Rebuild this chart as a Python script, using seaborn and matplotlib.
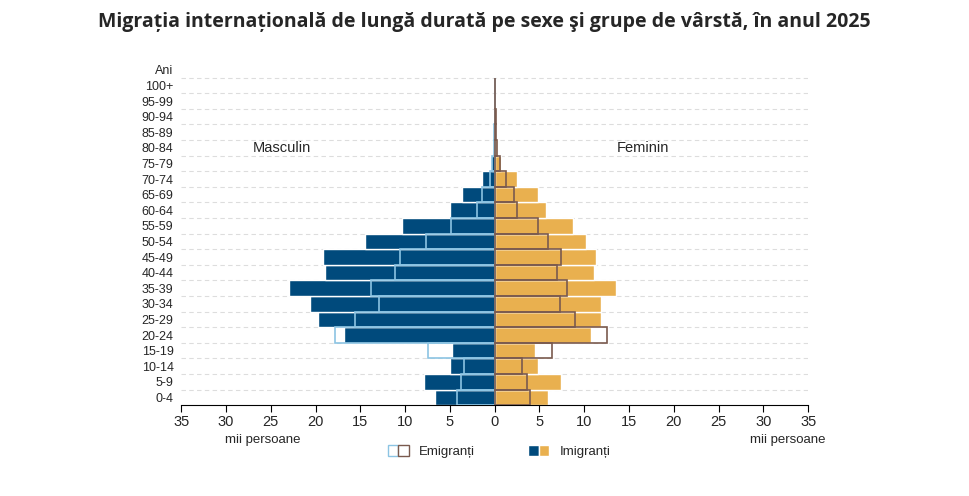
import numpy as np
import seaborn as sns
import matplotlib.pyplot as plt
from matplotlib.patches import Patch
from matplotlib.legend_handler import HandlerTuple

sns.set_style("white")
plt.rcParams['font.family'] = ['Liberation Sans', 'DejaVu Sans']

# age groups bottom -> top
ages = ['0-4', '5-9', '10-14', '15-19', '20-24', '25-29', '30-34', '35-39',
        '40-44', '45-49', '50-54', '55-59', '60-64', '65-69', '70-74', '75-79',
        '80-84', '85-89', '90-94', '95-99', '100+']

# thousands of persons
male_imm = [6.7, 7.9, 5.0, 4.8, 16.8, 19.7, 20.6, 23.0, 18.9, 19.2, 14.5, 10.3,
            5.0, 3.6, 1.4, 0.4, 0.1, 0.05, 0.0, 0.0, 0.0]
male_emi = [4.2, 3.8, 3.4, 7.5, 17.8, 15.6, 12.9, 13.8, 11.1, 10.6, 7.7, 4.9,
            2.0, 1.4, 0.5, 0.3, 0.1, 0.05, 0.0, 0.0, 0.0]
fem_imm = [6.0, 7.4, 4.8, 4.5, 10.7, 11.9, 11.9, 13.6, 11.1, 11.3, 10.2, 8.7,
           5.7, 4.8, 2.5, 0.7, 0.3, 0.2, 0.1, 0.0, 0.0]
fem_emi = [4.0, 3.6, 3.0, 6.4, 12.5, 9.0, 7.3, 8.1, 7.0, 7.4, 6.0, 4.8,
           2.5, 2.2, 1.3, 0.6, 0.3, 0.2, 0.2, 0.0, 0.0]

c_male = '#004a7c'
c_fem = '#e9b04f'
c_male_out = '#8cc4e3'
c_fem_out = '#7a5a4e'

fig = plt.figure(figsize=(9.69, 4.96), dpi=100)
ax = fig.add_axes([0.187, 0.183, 0.647, 0.692])

y = np.arange(len(ages))
ax.barh(y, -np.array(male_imm), height=1.0, color=c_male, zorder=2)
ax.barh(y, fem_imm, height=1.0, color=c_fem, zorder=2)
ax.barh(y, -np.array(male_emi), height=1.0, fill=False, edgecolor=c_male_out, linewidth=1.2, zorder=3)
ax.barh(y, fem_emi, height=1.0, fill=False, edgecolor=c_fem_out, linewidth=1.2, zorder=3)

ax.set_xlim(-35, 35)
ax.set_ylim(-0.5, 21.5)
ax.set_xticks(np.arange(-35, 36, 5))
ax.set_xticklabels([str(abs(v)) for v in range(-35, 36, 5)], fontsize=10.5)
ax.set_yticks(list(y) + [21])
ax.set_yticklabels(ages + ['Ani'], fontsize=9)
for yy in np.arange(0.5, 21, 1):
    ax.axhline(yy, color='#dddddd', lw=0.8, ls=(0, (4, 3)), zorder=1)

for s in ['top', 'right', 'left']:
    ax.spines[s].set_visible(False)
ax.spines['bottom'].set_color('black')
ax.tick_params(axis='x', bottom=True, direction='out', length=5, color='black', pad=2)
ax.tick_params(axis='y', left=False, pad=2)

ax.text(-23.8, 16, 'Masculin', fontsize=10.5, va='center', ha='center')
ax.text(16.5, 16, 'Feminin', fontsize=10.5, va='center', ha='center')
fig.text(0.232, 0.113, 'mii persoane', fontsize=9.5, ha='left', va='center')
fig.text(0.852, 0.113, 'mii persoane', fontsize=9.5, ha='right', va='center')

fig.suptitle('Migrația internațională de lungă durată pe sexe şi grupe de vârstă, în anul 2025',
             fontsize=14, fontweight='bold', y=0.975, family=['Open Sans', 'DejaVu Sans'])

h_emi = (Patch(facecolor='white', edgecolor=c_male_out), Patch(facecolor='white', edgecolor=c_fem_out))
h_imm = (Patch(facecolor=c_male), Patch(facecolor=c_fem))
fig.legend([h_emi, h_imm], ['Emigranți', 'Imigranți'],
           handler_map={tuple: HandlerTuple(ndivide=None, pad=0)},
           loc='center', bbox_to_anchor=(0.515, 0.09), ncol=2, frameon=False,
           fontsize=9.5, handlelength=1.6, handleheight=1.0, columnspacing=4)

plt.savefig('out.png', dpi=100)
